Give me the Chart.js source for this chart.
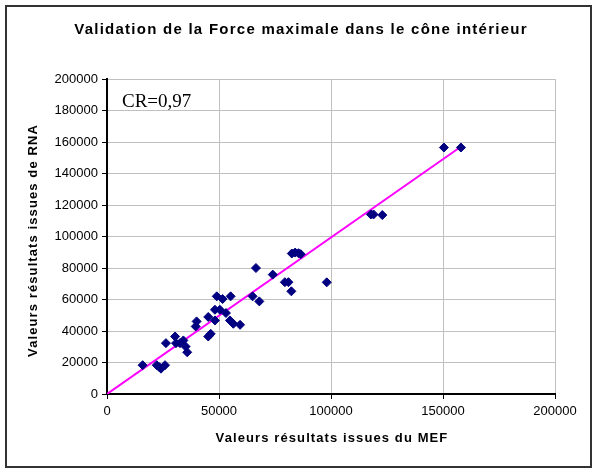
<!DOCTYPE html>
<html>
<head>
<meta charset="utf-8">
<script src="https://cdn.jsdelivr.net/npm/chart.js@4"></script>
<style>
  html, body { margin: 0; padding: 0; background: #fff; }
  #wrap { position: relative; width: 596px; height: 470px; }
</style>
</head>
<body>
<div id="wrap"><canvas id="scatterChart" width="596" height="470"></canvas></div>
<script>
// Force max : valeurs MEF (x) vs valeurs RNA (y)
var mefValues = [
  15900, 22200, 23400, 24100, 25900, 26300, 30400, 30800, 32600, 34100,
  35100, 35800, 39600, 40000, 45200, 46300, 45200, 48200, 49000, 51600,
  55200, 48200, 50400, 53100, 54900, 56400, 59400, 65000, 68000, 66500,
  74000, 79400, 81000, 82300, 98100, 82500, 84000, 85500, 86500, 117800,
  119000, 122900, 150400, 158000
];
var rnaValues = [
  18300, 18300, 17000, 16100, 18300, 32300, 36500, 32300, 32300, 34000,
  30100, 26500, 42900, 46100, 36500, 38200, 48900, 46700, 62000, 60300,
  62000, 53500, 53500, 51400, 46700, 44600, 43900, 62000, 58800, 80000,
  75800, 71000, 71000, 65200, 70900, 89200, 89800, 89400, 88800, 114000,
  114000, 113600, 156500, 156500
];
// droite de tendance
var trendX = [0, 157000];
var trendY = [0, 156000];
var xTicks = [0, 50000, 100000, 150000, 200000];
var yTicks = [0, 20000, 40000, 60000, 80000, 100000, 120000, 140000, 160000, 180000, 200000];

var chartTitle = "Validation de la Force maximale dans le cône intérieur";
var xTitle = "Valeurs résultats issues du MEF";
var yTitle = "Valeurs résultats issues de RNA";
var crLabel = "CR=0,97";

var points = mefValues.map(function (x, i) { return { x: x, y: rnaValues[i] }; });
var trend = trendX.map(function (x, i) { return { x: x, y: trendY[i] }; });

var font = "'Liberation Sans', Arial, sans-serif";

// cadre, titres (avec espacement des lettres) et texte CR
var framePlugin = {
  id: "frame",
  beforeDraw: function (chart) {
    var c = chart.ctx;
    c.save();
    c.fillStyle = "#fff";
    c.fillRect(0, 0, chart.width, chart.height);
    c.strokeStyle = "#333";
    c.lineWidth = 2;
    c.strokeRect(6, 6, 585, 461);
    c.restore();
  },
  afterDraw: function (chart) {
    var c = chart.ctx;
    var a = chart.chartArea;
    c.save();
    c.fillStyle = "#000";
    c.textAlign = "center";
    c.textBaseline = "middle";

    c.font = "bold 15px " + font;
    c.letterSpacing = "1.25px";
    c.fillText(chartTitle, 301, 30);

    c.font = "bold 13px " + font;
    c.letterSpacing = "1.1px";
    c.fillText(xTitle, (a.left + a.right) / 2 + 1, 438);

    c.save();
    c.translate(33, (a.top + a.bottom) / 2 + 4);
    c.rotate(-Math.PI / 2);
    c.fillText(yTitle, 0, 0);
    c.restore();

    c.letterSpacing = "0px";
    c.textAlign = "left";
    c.font = "19px 'Liberation Serif', 'Times New Roman', serif";
    c.fillText(crLabel, a.left + 15, a.top + 23);
    c.restore();
  }
};

function axisTicks(values) {
  return function (scale) {
    scale.ticks = values.map(function (v) { return { value: v }; });
  };
}

function plainLabel(value) { return String(value); }

var ctx = document.getElementById("scatterChart").getContext("2d");
var myChart = new Chart(ctx, {
  type: "scatter",
  data: {
    datasets: [
      {
        type: "line",
        data: trend,
        borderColor: "#FF00FF",
        borderWidth: 2,
        pointRadius: 0,
        fill: false,
        order: 2
      },
      {
        data: points,
        pointStyle: "rectRot",
        pointRadius: 4.5,
        backgroundColor: "#000080",
        borderColor: "#000080",
        borderWidth: 1,
        order: 1
      }
    ]
  },
  options: {
    responsive: false,
    animation: false,
    layout: { padding: { left: 47, right: 41, top: 79, bottom: 36 } },
    plugins: {
      legend: { display: false },
      tooltip: { enabled: false },
      title: { display: false }
    },
    scales: {
      x: {
        type: "linear",
        min: 0,
        max: 200000,
        afterBuildTicks: axisTicks(xTicks),
        grid: { color: "#c0c0c0", tickColor: "#000", tickLength: 5, lineWidth: 1 },
        border: { color: "#000", width: 2 },
        ticks: { color: "#000", font: { family: font, size: 13 }, padding: 5, maxRotation: 0, callback: plainLabel },
        afterFit: function (scale) { scale.height = 40; }
      },
      y: {
        type: "linear",
        min: 0,
        max: 200000,
        afterBuildTicks: axisTicks(yTicks),
        grid: { color: "#c0c0c0", tickColor: "#000", tickLength: 5, lineWidth: 1 },
        border: { color: "#000", width: 2 },
        ticks: { color: "#000", font: { family: font, size: 13 }, padding: 4, callback: plainLabel },
        afterFit: function (scale) { scale.width = 60; }
      }
    }
  },
  plugins: [framePlugin]
});
</script>
</body>
</html>
